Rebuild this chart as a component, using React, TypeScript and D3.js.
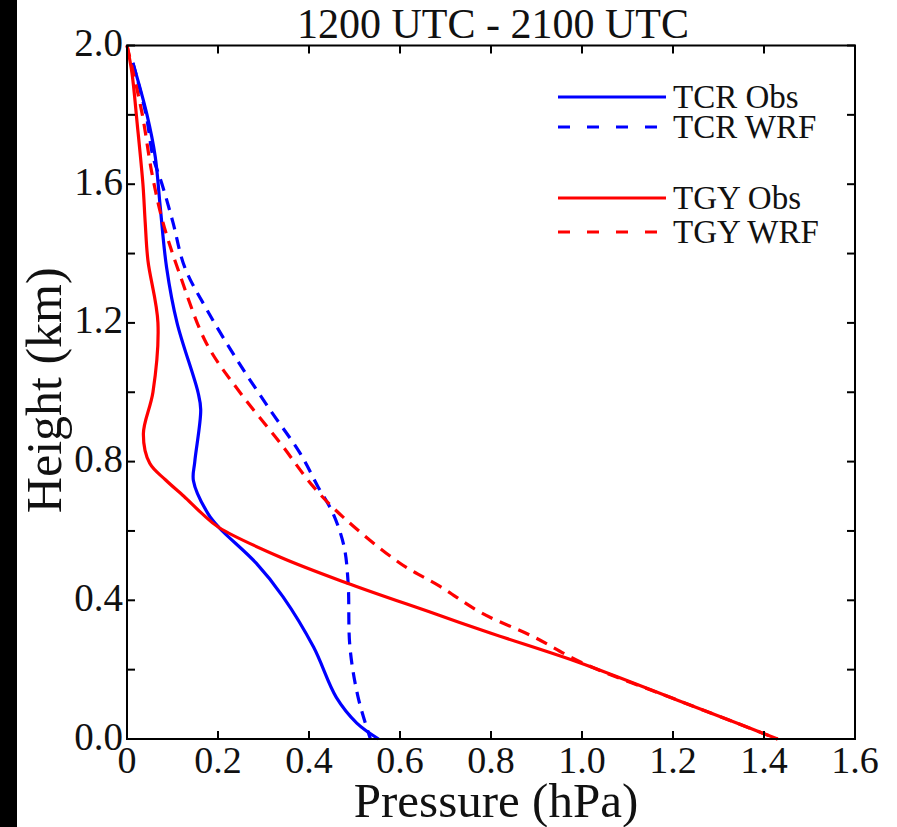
import React from 'react'
import * as d3 from 'd3'

// heights (km) and pressure perturbation (hPa)
const tcrObsH = [1.95, 1.8, 1.68, 1.535, 1.36, 1.2, 1.0, 0.95, 0.8, 0.745, 0.65, 0.61, 0.507, 0.41, 0.265, 0.12, 0.046, 0.0]
const tcrObsP = [0.013, 0.044, 0.062, 0.073, 0.087, 0.11, 0.156, 0.162, 0.149, 0.146, 0.178, 0.202, 0.284, 0.343, 0.41, 0.46, 0.505, 0.553]

const tcrWrfH = [1.95, 1.8, 1.68, 1.6, 1.49, 1.36, 1.237, 1.093, 0.95, 0.825, 0.727, 0.65, 0.555, 0.45, 0.265, 0.12, 0.0]
const tcrWrfP = [0.013, 0.042, 0.057, 0.077, 0.101, 0.127, 0.176, 0.242, 0.314, 0.38, 0.42, 0.453, 0.477, 0.486, 0.49, 0.508, 0.535]

const tgyObsH = [2.0, 1.92, 1.78, 1.6, 1.49, 1.38, 1.2, 1.0, 0.88, 0.795, 0.747, 0.7, 0.65, 0.61, 0.525, 0.45, 0.366, 0.305, 0.22, 0.112, 0.046, 0.0]
const tgyObsP = [0.0, 0.011, 0.022, 0.035, 0.04, 0.046, 0.068, 0.057, 0.036, 0.05, 0.085, 0.125, 0.165, 0.202, 0.336, 0.483, 0.666, 0.8, 0.995, 1.21, 1.34, 1.43]

const tgyWrfH = [2.0, 1.805, 1.63, 1.49, 1.34, 1.14, 1.0, 0.855, 0.727, 0.64, 0.507, 0.44, 0.363, 0.295, 0.22, 0.112, 0.046, 0.0]
const tgyWrfP = [0.0, 0.033, 0.055, 0.079, 0.116, 0.175, 0.248, 0.336, 0.41, 0.475, 0.6, 0.688, 0.78, 0.893, 1.0, 1.21, 1.34, 1.43]

const xTicks = [0, 0.2, 0.4, 0.6, 0.8, 1.0, 1.2, 1.4, 1.6]
const xTickLabels = ['0', '0.2', '0.4', '0.6', '0.8', '1.0', '1.2', '1.4', '1.6']
const yTicks = [0, 0.2, 0.4, 0.6, 0.8, 1.0, 1.2, 1.4, 1.6, 1.8, 2.0]
const yLabelTicks = [0, 0.4, 0.8, 1.2, 1.6, 2.0]

const seriesNames = ['TCR Obs', 'TCR WRF', 'TGY Obs', 'TGY WRF']
const seriesColors = ['#0000ff', '#0000ff', '#ff0000', '#ff0000']
const seriesDashed = [false, true, false, true]

const W = 897
const H = 827
const left = 127
const right = 855
const top = 45.5
const bottom = 739
const font = '"Liberation Serif", "Times New Roman", serif'

export default function App() {
  const x = d3.scaleLinear().domain([0, 1.6]).range([left, right])
  const y = d3.scaleLinear().domain([0, 2.0]).range([bottom, top])

  const line = d3.line<[number, number]>()
    .x(d => x(d[0]))
    .y(d => y(d[1]))
    .curve(d3.curveCatmullRom.alpha(0.5))

  const series = [
    tcrObsP.map((p, i) => [p, tcrObsH[i]] as [number, number]),
    tcrWrfP.map((p, i) => [p, tcrWrfH[i]] as [number, number]),
    tgyObsP.map((p, i) => [p, tgyObsH[i]] as [number, number]),
    tgyWrfP.map((p, i) => [p, tgyWrfH[i]] as [number, number]),
  ]

  const legendY = [97, 127, 198, 232]
  const tick = 8

  return (
    <svg width={W} height={H} style={{ position: 'absolute', left: 0, top: 0, background: '#fff' }} fontFamily={font}>
      <rect x={0} y={0} width={17} height={H} fill="#000" />

      {series.map((s, i) => (
        <path key={i} d={line(s) || ''} fill="none" stroke={seriesColors[i]}
          strokeWidth={3.2} strokeDasharray={seriesDashed[i] ? '12,8' : undefined} />
      ))}

      {/* frame */}
      <rect x={left} y={top} width={right - left} height={bottom - top} fill="none" stroke="#000" strokeWidth={2} />

      {xTicks.map((t, i) => (
        <g key={'x' + i}>
          <line x1={x(t)} x2={x(t)} y1={bottom} y2={bottom - tick} stroke="#000" strokeWidth={2} />
          <line x1={x(t)} x2={x(t)} y1={top} y2={top + tick} stroke="#000" strokeWidth={2} />
          <text x={x(t)} y={773} fontSize={38} textAnchor="middle" fill="#111">{xTickLabels[i]}</text>
        </g>
      ))}

      {yTicks.map((t, i) => (
        <g key={'y' + i}>
          <line x1={left} x2={left + tick} y1={y(t)} y2={y(t)} stroke="#000" strokeWidth={2} />
          <line x1={right} x2={right - tick} y1={y(t)} y2={y(t)} stroke="#000" strokeWidth={2} />
        </g>
      ))}
      {yLabelTicks.map((t, i) => (
        <text key={'yl' + i} x={123} y={y(t) + 10.5} fontSize={39} textAnchor="end" fill="#111">{t.toFixed(1)}</text>
      ))}

      <text x={(left + right) / 2 + 2} y={38} fontSize={42} textAnchor="middle" fill="#111">1200 UTC - 2100 UTC</text>
      <text x={496} y={817} fontSize={49} textAnchor="middle" fill="#111">Pressure (hPa)</text>
      <text transform={`translate(61,${(top + bottom) / 2 - 2}) rotate(-90)`} fontSize={50} textAnchor="middle" fill="#111">Height (km)</text>

      {seriesNames.map((n, i) => (
        <g key={'lg' + i}>
          <line x1={558} x2={666} y1={legendY[i]} y2={legendY[i]} stroke={seriesColors[i]} strokeWidth={3}
            strokeDasharray={seriesDashed[i] ? '12,17' : undefined} />
          <text x={673} y={legendY[i] + 11} fontSize={33} fill="#111">{n}</text>
        </g>
      ))}
    </svg>
  )
}
